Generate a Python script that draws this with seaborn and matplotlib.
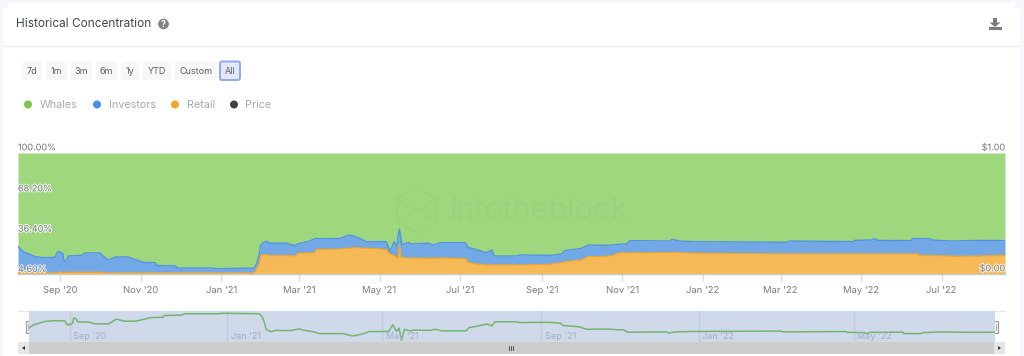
import pandas as pd
import seaborn as sns
import matplotlib.pyplot as plt
import matplotlib.dates as mdates
import matplotlib.patheffects as pe
from matplotlib.patches import FancyBboxPatch, Rectangle, Circle, Polygon

# days since the first sample, with the tops of the stacked bands in percent
start = pd.Timestamp('2020-07-31')
days = [0, 4, 8, 13, 19, 28, 30, 32, 34, 35, 37, 38, 48, 51, 62, 68, 74, 83, 95, 104,
        105, 119, 121, 148, 150, 179, 181, 183, 184, 186, 188, 191, 203, 210, 212, 221, 225, 226, 239,
        244, 251, 254, 259, 264, 269, 279, 282, 284, 285, 287, 288, 289, 290, 291, 296, 298,
        311, 315, 320, 339, 341, 347, 355, 359, 361, 378, 380, 403, 412, 414, 424, 427, 432,
        443, 451, 455, 461, 464, 494, 496, 501, 512, 552, 582, 585, 633, 634, 647, 649, 652,
        677, 678, 682, 683, 691, 693, 706, 709, 729, 748]
investors_top = [26.2, 22.2, 20.4, 18.3, 17.5, 17.7, 22.2, 21.9, 20.9, 14.3, 15.6, 18.8, 19.3, 21.2, 21.2, 15.6, 18.0, 18.0, 13.8, 13.5,
                 11.4, 10.9, 9.3, 9.3, 8.8, 9.3, 13.0, 21.2, 27.5, 29.3, 30.4, 28.8, 29.0, 26.9, 28.3, 30.6, 32.5, 32.5, 32.5,
                 32.7, 35.3, 34.6, 32.7, 30.1, 30.1, 30.1, 22.2, 27.5, 30.1, 26.2, 34.0, 40.1, 34.0, 27.5, 29.6, 28.3,
                 28.8, 27.5, 29.3, 29.3, 25.6, 24.0, 21.4, 23.5, 18.8, 18.8, 19.6, 19.3, 20.4, 23.0, 24.3, 24.8, 27.5,
                 27.2, 27.5, 28.0, 28.3, 30.9, 30.6, 31.9, 30.6, 30.1, 29.8, 29.6, 30.6, 30.1, 31.1, 31.4, 32.5, 31.1,
                 30.9, 32.5, 32.5, 32.5, 32.5, 31.4, 30.6, 30.6, 31.1, 30.9]
retail_top = [5.4, 5.4, 5.4, 5.4, 5.4, 5.4, 5.4, 6.4, 5.4, 5.4, 5.9, 5.9, 5.9, 5.9, 5.9, 5.4, 5.4, 5.4, 5.4, 5.4,
              5.4, 5.4, 5.4, 5.4, 5.4, 5.4, 9.1, 13.0, 19.6, 19.6, 19.8, 19.1, 19.1, 18.8, 20.9, 21.2, 21.4, 24.0, 24.0,
              24.3, 24.8, 25.4, 25.1, 24.8, 24.6, 24.0, 20.1, 19.6, 19.1, 17.5, 17.5, 27.5, 17.7, 17.5, 17.2, 17.2,
              17.0, 17.0, 17.2, 16.7, 13.8, 12.5, 11.7, 11.7, 11.7, 11.7, 11.7, 12.2, 13.5, 14.1, 15.4, 15.6, 18.3,
              18.3, 19.1, 21.2, 21.2, 21.2, 21.4, 21.4, 21.4, 20.9, 20.6, 20.4, 20.4, 20.4, 20.4, 20.4, 20.4, 20.4,
              20.4, 20.4, 20.4, 19.1, 19.1, 19.1, 18.8, 18.5, 18.8, 19.3]

month_ticks = ['2020-09-01', '2020-11-01', '2021-01-01', '2021-03-01', '2021-05-01', '2021-07-01',
               '2021-09-01', '2021-11-01', '2022-01-01', '2022-03-01', '2022-05-01', '2022-07-01']
month_labels = ["Sep '20", "Nov '20", "Jan '21", "Mar '21", "May '21", "Jul '21",
                "Sep '21", "Nov '21", "Jan '22", "Mar '22", "May '22", "Jul '22"]
nav_ticks = ['2020-09-01', '2021-01-01', '2021-05-01', '2021-09-01', '2022-01-01', '2022-05-01']
nav_labels = ["Sep '20", "Jan '21", "May '21", "Sep '21", "Jan '22", "May '22"]
pct_ticks = [100.0, 68.2, 36.4, 4.6]
price_ticks = [(100.0, '$1.00'), (4.6, '$0.00')]

buttons = [('7d', 22, 42), ('1m', 46, 67), ('3m', 71, 92), ('6m', 96, 117), ('1y', 121, 139),
           ('YTD', 143, 171), ('Custom', 175, 217), ('All', 220, 240)]
legend_items = [('Whales', '#7cc84f', 28), ('Investors', '#4a90e8', 97),
                ('Retail', '#f5a623', 175), ('Price', '#3b4148', 234)]

dates = start + pd.to_timedelta(days, unit='D')
whales = [100 - v for v in investors_top]
end = dates[-1]

W, H = 1024, 356
sns.set_theme(style="white")
plt.rcParams['font.family'] = ['Inter', 'DejaVu Sans']

fig = plt.figure(figsize=(W / 100, H / 100), dpi=100, facecolor='#f6f7fc')


def px_axes(x0, y0, x1, y1, **kw):
    return fig.add_axes([x0 / W, 1 - y1 / H, (x1 - x0) / W, (y1 - y0) / H], **kw)


# card, header, buttons and legend are drawn in pixel coordinates
bg = px_axes(0, 0, W, H)
bg.set_xlim(0, W)
bg.set_ylim(H, 0)
bg.axis('off')
bg.add_patch(FancyBboxPatch((8, 8), 1007, 360, boxstyle='round,pad=0,rounding_size=5', mutation_aspect=1,
                            fc='white', ec='none', zorder=0, clip_on=True))
bg.add_patch(Rectangle((3, 8), 1017, 350, fc='white', ec='none', zorder=0))
bg.add_patch(Rectangle((8, 3), 1007, 10, fc='white', ec='none', zorder=0))
bg.plot([3, 1020], [46, 46], color='#eeeff2', lw=1)
bg.text(15.5, 24, 'Historical Concentration', fontsize=8.5, color='#3d4650', va='center', ha='left')
bg.add_patch(Circle((163.5, 24), 5.3, fc='#838383', ec='none'))
bg.text(163.5, 24.2, '?', fontsize=6.5, color='white', ha='center', va='center', fontweight='bold')

# download icon
bg.add_patch(Polygon([(993, 18), (997, 18), (997, 22.5), (1000.5, 22.5), (995, 27), (989.5, 22.5), (993, 22.5)],
                     fc='#7d7d7d', ec='none'))
bg.add_patch(Rectangle((989, 26.5), 12.5, 3.5, fc='#7d7d7d', ec='none'))

for label, x0, x1 in buttons:
    active = label == 'All'
    bg.add_patch(FancyBboxPatch((x0, 61.5), x1 - x0, 18.5, boxstyle='round,pad=0,rounding_size=2',
                                fc='#e2e8f6' if active else '#f7f7f7',
                                ec='#8fa8f0' if active else 'none', lw=1.4 if active else 0))
    bg.text((x0 + x1) / 2, 71.5, label, fontsize=6.5, color='#5a6068', ha='center', va='center')

for label, color, x in legend_items:
    bg.add_patch(Circle((x, 104.5), 4, fc=color, ec='none'))
    bg.text(x + 11.5, 104.5, label, fontsize=7.8, color='#a3abb0', ha='left', va='center')

# main stacked area
ax = px_axes(18, 153, 1005, 274)
ax.patch.set_alpha(0)
ax.fill_between(dates, investors_top, 100, color='#9fd77f', lw=0)
ax.fill_between(dates, retail_top, investors_top, color='#72a8e6', lw=0)
ax.fill_between(dates, 0, retail_top, color='#f6b957', lw=0)
sns.lineplot(x=dates, y=investors_top, estimator=None, color='#4f93e2', lw=1, ax=ax)
sns.lineplot(x=dates, y=retail_top, estimator=None, color='#f5a623', lw=1, ax=ax)
ax.set_xlim(start, end)
ax.set_ylim(4.6, 100)
ax.set_xlabel('')
ax.set_ylabel('')
ax.set_yticks([])
ax.set_xticks(pd.to_datetime(month_ticks))
ax.set_xticklabels(month_labels, fontsize=6.8, color='#777c80')
ax.tick_params(axis='x', length=5, width=1, color='#d5deee', pad=3.5, bottom=True)
for side in ['top', 'left', 'right']:
    ax.spines[side].set_visible(False)
ax.spines['bottom'].set_color('#c9c9c9')
ax.spines['bottom'].set_linewidth(1)

# faint watermark
ax.text(0.527, 0.52, 'intotheblock', transform=ax.transAxes, fontsize=22, color='#94cf76', ha='center',
        va='center', alpha=0.4)
logo = [(397, 199), (417, 186), (436, 199), (436, 222), (417, 233), (397, 222)]
bg2 = px_axes(0, 0, W, H)
bg2.set_xlim(0, W)
bg2.set_ylim(H, 0)
bg2.axis('off')
bg2.add_patch(Polygon(logo, fc='none', ec='#94cf76', lw=1, alpha=0.4))
bg2.plot([397, 417, 436], [199, 212, 199], color='#94cf76', lw=1, alpha=0.4)
bg2.plot([397, 417, 436], [222, 210, 222], color='#94cf76', lw=1, alpha=0.4)

# labels sit inside the plot, just above their level
halo = [pe.withStroke(linewidth=1.5, foreground='white', alpha=0.8)]
for v in pct_ticks:
    dy = 0.5 if v == 100.0 else 0
    ax.annotate(f'{v:.2f}%', xy=(0, v), xycoords=ax.get_yaxis_transform(), xytext=(0, dy), textcoords='offset points',
                fontsize=6.5, color='#777c80', ha='left', va='bottom', path_effects=halo, annotation_clip=False)
for v, label in price_ticks:
    ax.annotate(label, xy=(1, v), xycoords=ax.get_yaxis_transform(), xytext=(0, 0.5), textcoords='offset points',
                fontsize=6.5, color='#777c80', ha='right', va='bottom', path_effects=halo, annotation_clip=False)

# navigator
bg2.plot([18, 1005], [311, 311], color='#e4e6ea', lw=1)
nav = px_axes(28.5, 311, 994.5, 342)
nav.set_facecolor('#d0d9ea')
sns.lineplot(x=dates, y=whales, estimator=None, color='#72b56f', lw=1.1, ax=nav)
nav.set_xlim(start, end)
nav.set_ylim(57.6, 93.9)
nav.set_xlabel('')
nav.set_ylabel('')
nav.set_yticks([])
nav.set_xticks([])
for side in nav.spines:
    nav.spines[side].set_visible(False)
for tick, label in zip(pd.to_datetime(nav_ticks), nav_labels):
    nav.axvline(tick, color='#bfc9de', lw=0.8, zorder=0)
    nav.annotate(label, xy=(mdates.date2num(tick), 0.18), xycoords=nav.get_xaxis_transform(), xytext=(2.5, 0),
                 textcoords='offset points', fontsize=6.5, color='#a3aec4', ha='left', va='center')

# scrollbar and handles
bg2.add_patch(Rectangle((18, 342), 987, 12, fc='#cdcdcd', ec='none'))
bg2.add_patch(Rectangle((18, 342), 11, 12, fc='#e6e6e6', ec='none'))
bg2.add_patch(Rectangle((994, 342), 11, 12, fc='#e6e6e6', ec='none'))
bg2.add_patch(Polygon([(25, 346), (22, 348), (25, 350)], fc='#333333', ec='none'))
bg2.add_patch(Polygon([(998, 346), (1001, 348), (998, 350)], fc='#333333', ec='none'))
for x in (509, 511, 513):
    bg2.plot([x, x], [346, 350], color='#333333', lw=0.6)
for x in (28.5, 994.5):
    bg2.add_patch(Rectangle((x - 3, 321), 6, 12, fc='#f2f2f2', ec='#999999', lw=0.8))
    bg2.plot([x - 1, x - 1], [324, 330], color='#999999', lw=0.5)
    bg2.plot([x + 1, x + 1], [324, 330], color='#999999', lw=0.5)

plt.savefig('out.png', dpi=100, facecolor=fig.get_facecolor())
